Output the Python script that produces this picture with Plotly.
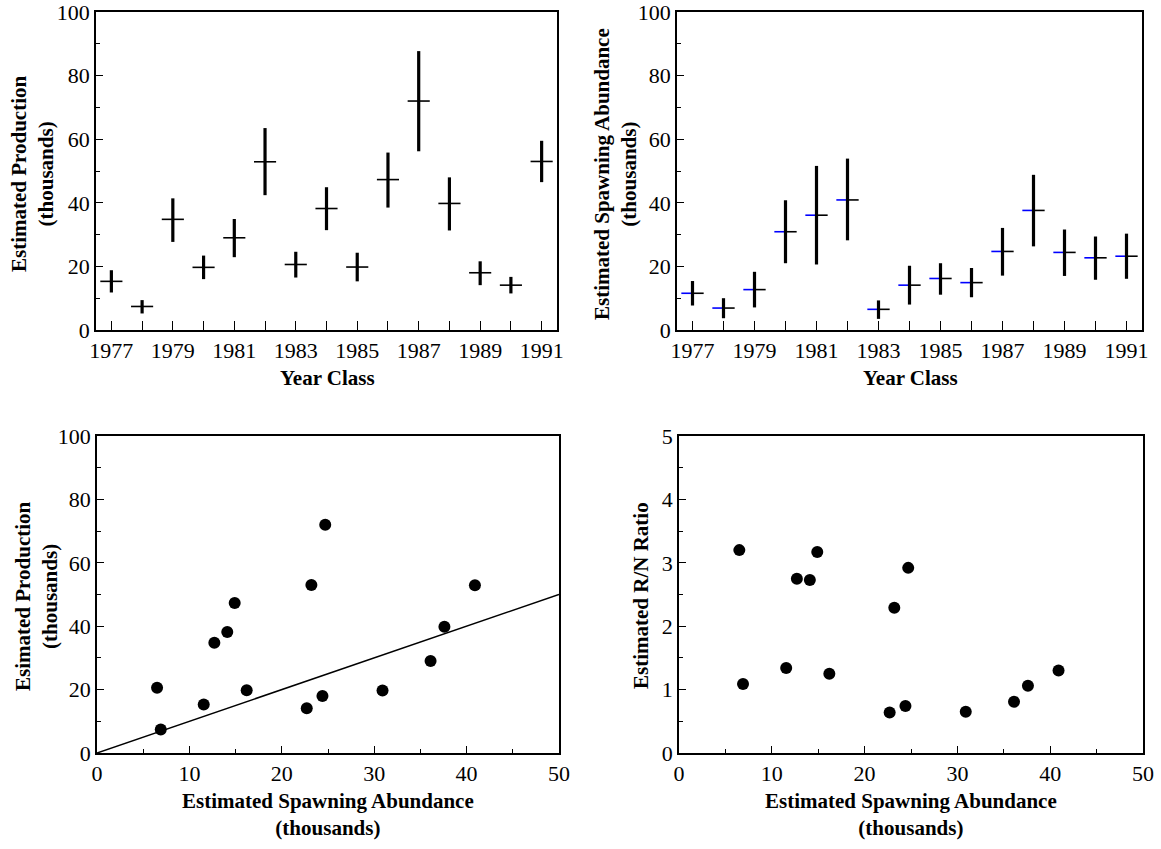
import plotly.graph_objects as go

# ---------------- data ----------------
years = list(range(1977, 1992))
year_labels = ["1977", "", "1979", "", "1981", "", "1983", "", "1985", "", "1987", "", "1989", "", "1991"]

prod = [15.3, 7.4, 34.8, 19.7, 29.0, 52.9, 20.6, 38.2, 19.8, 47.3, 72.0, 39.8, 18.0, 14.1, 53.0]
prod_hi = [18.8, 9.4, 41.4, 23.4, 34.9, 63.5, 24.6, 44.9, 24.3, 55.8, 87.7, 48.0, 21.6, 16.7, 59.5]
prod_lo = [11.8, 5.2, 27.7, 16.0, 22.9, 42.4, 16.5, 31.4, 15.3, 38.5, 56.2, 31.3, 14.1, 11.5, 46.5]

spawn = [11.55, 6.9, 12.7, 30.9, 36.1, 40.9, 6.5, 14.1, 16.2, 14.9, 24.7, 37.6, 24.4, 22.7, 23.2]
spawn_hi = [15.4, 10.0, 18.3, 40.8, 51.6, 53.9, 9.3, 20.2, 21.0, 19.5, 32.1, 48.8, 31.6, 29.4, 30.3]
spawn_lo = [7.7, 3.7, 7.1, 21.0, 20.6, 28.2, 3.5, 8.0, 11.1, 10.3, 17.1, 26.3, 17.0, 15.8, 16.1]

rn_ratio = [1.34, 1.09, 2.75, 0.65, 0.81, 1.30, 3.20, 2.73, 1.25, 3.17, 2.92, 1.06, 0.74, 0.64, 2.29]

line_x = [0, 50]
line_y = [0, 50]

W, H = 1161, 849
FONT = "Liberation Serif"
half_w = 0.36

def px_x(p):
    return p / W

def px_y(p):
    return 1 - p / H

fig = go.Figure()

invis = dict(size=1, color="rgba(0,0,0,0)")

# Top-left: production by year class
fig.add_trace(go.Scatter(
    x=years, y=prod, mode="markers", marker=invis, xaxis="x", yaxis="y",
    error_y=dict(type="data", symmetric=False,
                 array=[h - v for h, v in zip(prod_hi, prod)],
                 arrayminus=[v - l for v, l in zip(prod, prod_lo)],
                 color="black", thickness=3.2, width=0),
    error_x=dict(type="constant", value=half_w, color="black", thickness=1.6, width=0),
    showlegend=False, hoverinfo="skip"))

# Top-right: spawning abundance by year class
fig.add_trace(go.Scatter(
    x=years, y=spawn, mode="markers", marker=invis, xaxis="x2", yaxis="y2",
    error_x=dict(type="constant", symmetric=False, value=0, valueminus=half_w,
                 color="#0000ff", thickness=1.6, width=0),
    showlegend=False, hoverinfo="skip"))
fig.add_trace(go.Scatter(
    x=years, y=spawn, mode="markers", marker=invis, xaxis="x2", yaxis="y2",
    error_y=dict(type="data", symmetric=False,
                 array=[h - v for h, v in zip(spawn_hi, spawn)],
                 arrayminus=[v - l for v, l in zip(spawn, spawn_lo)],
                 color="black", thickness=3.2, width=0),
    error_x=dict(type="constant", symmetric=False, value=half_w, valueminus=0,
                 color="black", thickness=1.6, width=0),
    showlegend=False, hoverinfo="skip"))

# Bottom-left: production vs spawning abundance with 1:1 line
fig.add_trace(go.Scatter(
    x=line_x, y=line_y, mode="lines", line=dict(color="black", width=1.5),
    xaxis="x3", yaxis="y3", showlegend=False, hoverinfo="skip"))
fig.add_trace(go.Scatter(
    x=spawn, y=prod, mode="markers", marker=dict(size=12, color="black"),
    xaxis="x3", yaxis="y3", showlegend=False))

# Bottom-right: R/N ratio vs spawning abundance
fig.add_trace(go.Scatter(
    x=spawn, y=rn_ratio, mode="markers", marker=dict(size=12, color="black"),
    xaxis="x4", yaxis="y4", showlegend=False))

axis_common = dict(
    showline=True, linecolor="black", linewidth=1.6, mirror=True,
    ticks="inside", tickcolor="black", ticklen=7, tickwidth=1.2,
    showgrid=False, zeroline=False, automargin=False,
    ticklabeloverflow="allow",
    tickfont=dict(family=FONT, size=22, color="black"),
)

top_y = [px_y(330), px_y(12)]
bot_y = [px_y(753), px_y(436)]

def yr_axis(domain):
    return dict(axis_common, domain=domain, range=[1976.5, 1991.5],
                tickmode="array", tickvals=years, ticktext=year_labels, ticklen=9)

def y100(domain, anchor):
    return dict(axis_common, domain=domain, anchor=anchor, range=[0, 100],
                tickmode="linear", tick0=0, dtick=20,
                minor=dict(dtick=10, ticks="inside", ticklen=4, tickcolor="black", tickwidth=1.2))

def xsp(domain):
    return dict(axis_common, domain=domain, range=[0, 50], tickmode="linear", tick0=0, dtick=10,
                minor=dict(dtick=5, ticks="inside", ticklen=4, tickcolor="black", tickwidth=1.2))

fig.update_layout(
    width=W, height=H,
    margin=dict(l=0, r=0, t=0, b=0),
    paper_bgcolor="white", plot_bgcolor="white",
    font=dict(family=FONT, color="black"),
    xaxis=dict(yr_axis([px_x(96), px_x(557)]), anchor="y"),
    yaxis=y100(top_y, "x"),
    xaxis2=dict(yr_axis([px_x(677), px_x(1142)]), anchor="y2"),
    yaxis2=y100(top_y, "x2"),
    xaxis3=dict(xsp([px_x(97), px_x(559)]), anchor="y3"),
    yaxis3=y100(bot_y, "x3"),
    xaxis4=dict(xsp([px_x(679), px_x(1143)]), anchor="y4"),
    yaxis4=dict(axis_common, domain=bot_y, anchor="x4", range=[0, 5],
                tickmode="linear", tick0=0, dtick=1,
                minor=dict(dtick=0.5, ticks="inside", ticklen=4, tickcolor="black", tickwidth=1.2)),
)

title_font = dict(family=FONT, size=21, color="black")

def ann(text, x, y, angle=0):
    fig.add_annotation(text=text, x=px_x(x), y=px_y(y), xref="paper", yref="paper",
                       showarrow=False, textangle=angle, font=title_font,
                       xanchor="center", yanchor="middle", align="center")

ann("<b>Estimated Production</b><br><b>(thousands)</b>", 32, 174, -90)
ann("<b>Estimated Spawning Abundance</b><br><b>(thousands)</b>", 615, 174, -90)
ann("<b>Esimated Production</b><br><b>(thousands)</b>", 36, 596, -90)
ann("<b>Estimated R/N Ratio</b>", 641, 596, -90)
ann("<b>Year Class</b>", 327, 378)
ann("<b>Year Class</b>", 910, 378)
ann("<b>Estimated Spawning Abundance</b><br><b>(thousands)</b>", 328, 814)
ann("<b>Estimated Spawning Abundance</b><br><b>(thousands)</b>", 911, 814)

fig.write_html("out.html")
